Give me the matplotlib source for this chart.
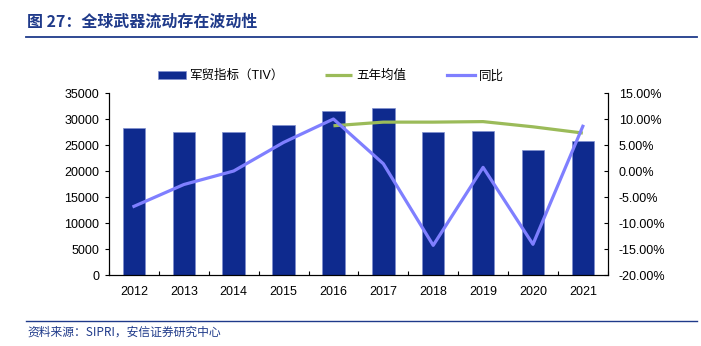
import matplotlib
matplotlib.use('Agg')
import matplotlib.pyplot as plt
from matplotlib.ticker import FuncFormatter, FixedLocator

plt.rcParams['font.family'] = ['Liberation Sans', 'Noto Sans CJK SC', 'DejaVu Sans']

years = ['2012', '2013', '2014', '2015', '2016', '2017', '2018', '2019', '2020', '2021']
tiv = [28200, 27500, 27500, 28850, 31600, 32100, 27500, 27700, 24000, 25800]
avg5_years = ['2016', '2017', '2018', '2019', '2020', '2021']
avg5 = [28700, 29400, 29400, 29500, 28500, 27300]
yoy = [-6.8, -2.6, 0.0, 5.5, 10.0, 1.4, -14.3, 0.7, -14.1, 8.6]

bar_color = '#0E2A8E'
green = '#9BBB59'
purple = '#7F7FFF'
navy = '#1F3A8A'

fig = plt.figure(figsize=(7.01, 3.46), dpi=100)
ax = fig.add_axes([0.1555, 0.2052, 0.7115, 0.526])

x = list(range(len(years)))
xa = [years.index(y) for y in avg5_years]

bars = ax.bar(x, tiv, width=0.45, color=bar_color, edgecolor='#7F8FD0', linewidth=0.5,
              label='军贸指标（TIV）', zorder=2)
l_avg, = ax.plot(xa, avg5, color=green, lw=2.3, label='五年均值', zorder=3, solid_capstyle='butt')
ax.set_ylim(0, 35000)
ax.set_yticks(range(0, 35001, 5000))
ax.set_xlim(-0.5, len(years) - 0.5)
ax.set_xticks(x)
ax.set_xticklabels(years)
ax.xaxis.set_minor_locator(FixedLocator([i + 0.5 for i in range(-1, len(years))]))
ax.tick_params(axis='x', which='major', length=0, pad=8, labelsize=9)
ax.tick_params(axis='x', which='minor', length=3, direction='in', width=0.8)
ax.tick_params(axis='y', direction='out', length=3, width=0.8, labelsize=9, pad=4)
ax.spines['top'].set_visible(False)
for s in ['left', 'bottom', 'right']:
    ax.spines[s].set_linewidth(0.8)

ax2 = ax.twinx()
l_yoy, = ax2.plot(x, yoy, color=purple, lw=2.3, label='同比', zorder=4)
ax2.set_ylim(-20, 15)
ax2.set_yticks(range(-20, 16, 5))
ax2.yaxis.set_major_formatter(FuncFormatter(lambda v, p: f'{v:.2f}%'))
ax2.tick_params(axis='y', direction='in', length=3, width=0.8, labelsize=9, pad=8)
ax2.spines['top'].set_visible(False)
ax2.spines['right'].set_linewidth(0.8)

fig.legend([bars, l_avg, l_yoy], ['军贸指标（TIV）', '五年均值', '同比'], loc='center',
           bbox_to_anchor=(0.472, 0.78), ncol=3, frameon=False, fontsize=9,
           handlelength=2.2, handleheight=0.6, columnspacing=3.3, handletextpad=0.3)

fig.text(0.039, 0.936, '图 27：全球武器流动存在波动性', color=navy, fontsize=11.5,
         fontweight='bold', family=['Noto Sans CJK SC', 'DejaVu Sans'], va='center')
fig.add_artist(plt.Line2D([0.037, 0.995], [0.893, 0.893], color=navy, lw=1.3))
fig.add_artist(plt.Line2D([0.037, 0.995], [0.072, 0.072], color=navy, lw=1.0))
fig.text(0.039, 0.04, '资料来源：SIPRI，安信证券研究中心', color=navy, fontsize=8.5,
         style='italic', family=['Noto Sans CJK SC', 'DejaVu Sans'], va='center')

fig.savefig('out.png', dpi=100)
